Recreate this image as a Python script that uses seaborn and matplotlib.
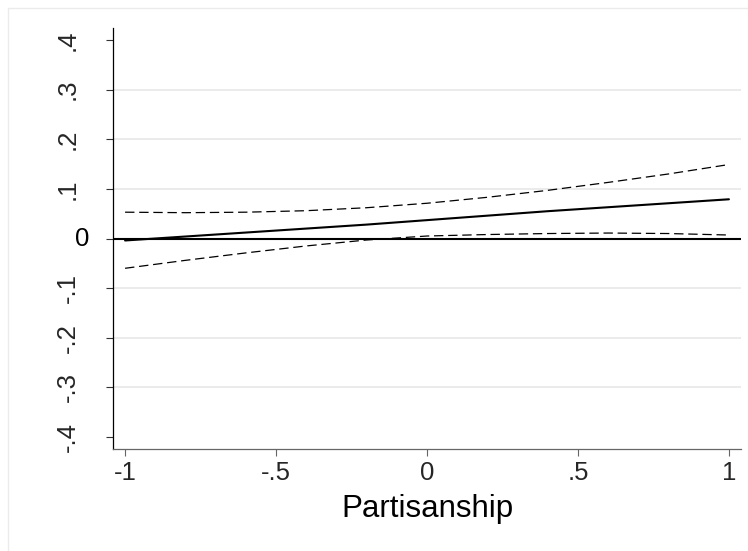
import matplotlib
matplotlib.use("Agg")
import matplotlib.pyplot as plt
import matplotlib.transforms as mtransforms
import numpy as np
import pandas as pd
import seaborn as sns
from matplotlib.patches import Rectangle

# Marginal effect of the treatment across partisanship, with 95% CI
partisanship = [-1.0, -0.8, -0.6, -0.4, -0.2, 0.0, 0.2, 0.4, 0.6, 0.8, 1.0]
effect = [-0.004, 0.004, 0.012, 0.020, 0.028, 0.037, 0.046, 0.055, 0.063, 0.071, 0.079]
ci_upper = [0.053, 0.052, 0.053, 0.056, 0.062, 0.071, 0.083, 0.097, 0.113, 0.130, 0.149]
ci_lower = [-0.060, -0.044, -0.029, -0.015, -0.003, 0.005, 0.008, 0.010, 0.011, 0.010, 0.007]

ytick_values = [-0.4, -0.3, -0.2, -0.1, 0.0, 0.1, 0.2, 0.3, 0.4]
ytick_labels = ["-.4", "-.3", "-.2", "-.1", "0", ".1", ".2", ".3", ".4"]
xtick_values = [-1.0, -0.5, 0.0, 0.5, 1.0]
xtick_labels = ["-1", "-.5", "0", ".5", "1"]
x_title = "Partisanship"

sns.set_theme(style="white")
plt.rcParams["font.family"] = ["Liberation Sans", "DejaVu Sans"]

df = pd.DataFrame({
    "partisanship": partisanship,
    "effect": effect,
    "upper": ci_upper,
    "lower": ci_lower,
})

W, H = 748, 551
fig = plt.figure(figsize=(W / 100, H / 100), dpi=100, facecolor="white")
ax = fig.add_axes([113 / W, 1 - 449 / H, (741 - 113) / W, (449 - 28) / H])
ax.set_facecolor("white")

# light horizontal grid lines (interior ticks only)
for yv in ytick_values[1:-1]:
    if yv != 0:
        ax.axhline(yv, color="#e6e6e6", lw=1.1, zorder=0)
ax.axhline(0, color="black", lw=1.5, zorder=2)

dash = (0, (7.5, 3.8))
sns.lineplot(data=df, x="partisanship", y="upper", ax=ax, color="black",
             lw=0.9, linestyle=dash, zorder=3)
sns.lineplot(data=df, x="partisanship", y="lower", ax=ax, color="black",
             lw=0.9, linestyle=dash, zorder=3)
sns.lineplot(data=df, x="partisanship", y="effect", ax=ax, color="black",
             lw=1.5, zorder=4)

ax.set_xlim(-1.04, 1.04)
ax.set_ylim(-0.424, 0.424)

ax.set_xticks(xtick_values)
ax.set_xticklabels(xtick_labels, fontsize=18.5)

# y labels are vertical, except the zero label which stands upright
ax.set_yticks(ytick_values)
vertical_labels = [lab if v != 0 else "" for v, lab in zip(ytick_values, ytick_labels)]
ax.set_yticklabels(vertical_labels, fontsize=18.5, rotation=90, va="center")
zero_label = ytick_labels[ytick_values.index(0.0)]
zero_trans = mtransforms.blended_transform_factory(fig.transFigure, ax.transData)
ax.text(82.5 / W, 0.0, zero_label, transform=zero_trans, fontsize=18.5,
        ha="center", va="center", color="black")

ax.tick_params(axis="x", direction="out", length=5, width=0.8, color="#666666",
               pad=4, bottom=True)
ax.tick_params(axis="y", direction="out", length=5, width=0.8, color="#333333",
               pad=19, left=True)

for side in ["top", "right"]:
    ax.spines[side].set_visible(False)
ax.spines["left"].set_color("black")
ax.spines["left"].set_linewidth(0.9)
ax.spines["bottom"].set_color("#666666")
ax.spines["bottom"].set_linewidth(0.9)

ax.set_xlabel(x_title, fontsize=22.5, labelpad=6, color="black")
ax.set_ylabel("")

# outer graph-region outline
fig.patches.append(Rectangle((8 / W, -0.01), 1.0, 1 - 8 / H + 0.01,
                             transform=fig.transFigure, fill=False,
                             edgecolor="#ebebeb", lw=1.0))

fig.savefig("out.png", dpi=100, facecolor="white")
